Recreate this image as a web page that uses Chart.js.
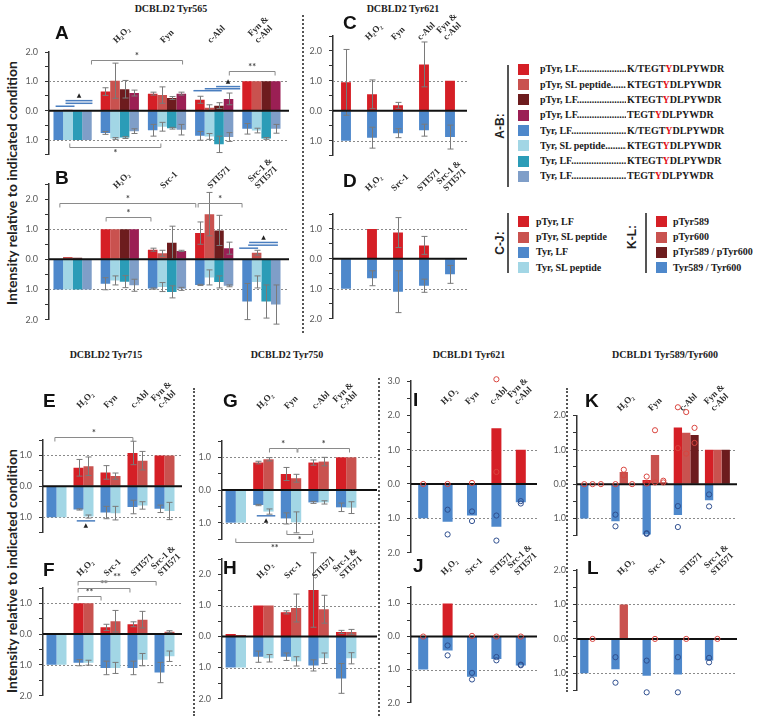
<!DOCTYPE html>
<html>
<head>
<meta charset="utf-8">
<script src="https://cdn.jsdelivr.net/npm/chart.js@4.4.1/dist/chart.umd.min.js"></script>
<style>
body{margin:0;background:#fff}
#fig{position:relative;width:771px;height:716px;overflow:hidden;background:#fff}
#fig div{position:absolute;white-space:nowrap}
#fig canvas{position:absolute}
.ttl{font:bold 10px 'Liberation Serif',serif;color:#222;width:160px;text-align:center;line-height:12px}
.let{font:bold 19px 'Liberation Sans',Arial,sans-serif;color:#111;line-height:19px}
.ytl{font:bold 14px Lato,sans-serif;color:#222;width:280px;height:16px;line-height:16px;text-align:center;transform:rotate(-90deg)}
.sep{border-left:2px dotted #555;width:0}
.sw{width:11px;height:11px}
.lt{font:bold 10px 'Liberation Serif',serif;color:#1a1a1a;line-height:12px}
.lt b{color:#e3141b}
.grp{font:bold 12px 'Liberation Sans',Arial,sans-serif;color:#222;transform:rotate(-90deg);width:40px;text-align:center;line-height:14px}
.vl{width:2px;background:#555}
</style>
</head>
<body>
<div id="fig"></div>
<script>
// colours
const RED = '#d51f26', SALMON = '#c9524f', MAROON = '#6d1c1e', PLUM = '#9b1f54';
const BLUE = '#4e88cb', LIGHT = '#a2d6e5', TEAL = '#2b9cb7', SLATE = '#7f9ec8';
const PT_RED = '#d9453f', PT_BLUE = '#2f4f8f';

// categories
const catsFyn = ['', 'H\u2082O\u2082', 'Fyn', 'c-Abl', ['Fyn &', 'c-Abl']];
const catsSrc = ['', 'H\u2082O\u2082', 'Src-1', 'STI571', ['Src-1 &', 'STI571']];

// A : DCBLD2 Tyr565 (pTyr up, Tyr down)
const pA1 = [0, 0.65, 0.58, 0.37, 1.0],  epA1 = [0, 0.13, 0.05, 0.12, 0];
const pA2 = [0.03, 1.02, 0.53, 0.1, 1.0], epA2 = [0, 0.6, 0.28, 0.1, 0];
const pA3 = [0, 0.73, 0.43, 0.17, 1.0],  epA3 = [0, 0.3, 0.05, 0.1, 0];
const pA4 = [0, 0.6, 0.58, 0.4, 1.0],    epA4 = [0, 0.1, 0.05, 0.2, 0];
const tA1 = [1.0, 0.76, 0.67, 0.86, 0.62], etA1 = [0, 0.05, 0.2, 0.15, 0.18];
const tA2 = [1.0, 0.95, 0.55, 0.88, 0.68], etA2 = [0, 0.03, 0.15, 0.1, 0.08];
const tA3 = [1.0, 0.92, 0.6, 1.15, 0.95],  etA3 = [0, 0.03, 0.03, 0.28, 0.03];
const tA4 = [1.0, 0.7, 0.65, 0.9, 0.62],   etA4 = [0, 0.08, 0.18, 0.15, 0.15];

// B
const pB1 = [0, 1.0, 0.32, 0.87, 0],     epB1 = [0, 0, 0.05, 0.37, 0];
const pB2 = [0.08, 1.0, 0.2, 1.5, 0.22], epB2 = [0, 0, 0.1, 0.72, 0.08];
const pB3 = [0.05, 1.0, 0.55, 0.96, 0],  epB3 = [0, 0, 0.55, 0.5, 0];
const pB4 = [0, 1.0, 0.28, 0.37, 0],     epB4 = [0, 0, 0.02, 0.2, 0];
const tB1 = [1.0, 0.81, 0.97, 0.85, 1.4], etB1 = [0, 0.2, 0.02, 0.02, 0.6];
const tB2 = [1.0, 0.7, 0.92, 0.6, 0.75],  etB2 = [0, 0.15, 0.15, 0.25, 0.2];
const tB3 = [1.0, 0.74, 1.08, 0.75, 1.4], etB3 = [0, 0.2, 0.2, 0.2, 0.55];
const tB4 = [1.0, 0.86, 0.98, 0.88, 1.5], etB4 = [0, 0.2, 0.05, 0.03, 0.65];

// C, D : DCBLD2 Tyr621
const pC = [0.95, 0.55, 0.18, 1.55, 1.0], epC = [1.1, 0.48, 0.1, 0.75, 0];
const tC = [1.0, 0.9, 0.75, 0.65, 0.88],  etC = [0, 0.35, 0.15, 0.2, 0.4];
const pD = [0, 1.0, 0.88, 0.45, 0],       epD = [0, 0, 0.5, 0.3, 0];
const tD = [1.0, 0.65, 1.1, 0.9, 0.52],   etD = [0, 0.25, 0.7, 0.22, 0.3];

// E, F : DCBLD2 Tyr715
const pE1 = [0, 0.6, 0.45, 1.08, 1.0],    epE1 = [0, 0.27, 0.22, 0.38, 0];
const pE2 = [0.02, 0.65, 0.33, 0.83, 1.0], epE2 = [0, 0.3, 0.1, 0.3, 0];
const tE1 = [1.0, 0.75, 0.85, 0.67, 0.73], etE1 = [0, 0.02, 0.2, 0.22, 0.12];
const tE2 = [1.0, 0.98, 0.87, 0.62, 0.8],  etE2 = [0, 0.05, 0.22, 0.12, 0.28];
const pF1 = [0.03, 1.0, 0.22, 0.32, 0.03], epF1 = [0, 0, 0.1, 0.08, 0];
const pF2 = [0.02, 1.0, 0.42, 0.47, 0.08], epF2 = [0, 0, 0.35, 0.27, 0.03];
const tF1 = [1.0, 0.93, 1.1, 1.1, 1.25],   etF1 = [0, 0.1, 0.22, 0.22, 0.33];
const tF2 = [1.0, 0.93, 1.1, 0.83, 0.72],  etF2 = [0, 0.08, 0.18, 0.2, 0.17];

// G, H : DCBLD2 Tyr750
const pG1 = [0, 0.84, 0.49, 0.84, 1.0],    epG1 = [0, 0.04, 0.2, 0.08, 0];
const pG2 = [0.03, 0.94, 0.36, 0.87, 1.0], epG2 = [0, 0.05, 0.12, 0.13, 0];
const tG1 = [1.0, 0.46, 0.87, 0.38, 0.53], etG1 = [0, 0.02, 0.17, 0.03, 0.13];
const tG2 = [1.0, 0.66, 0.99, 0.38, 0.54], etG2 = [0, 0.08, 0.32, 0.05, 0.18];
const pH1 = [0.08, 1.0, 0.78, 1.5, 0.15],  epH1 = [0, 0, 0.05, 1.2, 0.05];
const pH2 = [0.05, 1.0, 0.92, 0.88, 0.15], epH2 = [0, 0, 0.45, 0.45, 0.08];
const tH1 = [1.0, 0.65, 0.65, 0.93, 1.35], etH1 = [0, 0.18, 0.12, 0.18, 0.48];
const tH2 = [1.0, 0.7, 0.8, 0.7, 0.7],     etH2 = [0, 0.12, 0.15, 0.17, 0.18];

// I, J : DCBLD1 Tyr621 (bars + single replicates)
const pI = [0.02, 0.02, 0.03, 1.62, 1.0], ptsPI = [[0], [0], [0.03], [3.05, 0.35], []];
const tI = [1.0, 1.1, 0.92, 1.25, 0.53],  ptsTI = [[], [0.75, 1.47], [0.8, 1.08], [0.92, 1.65], [0.5, 0.57]];
const pJ = [0.02, 1.0, 0.02, 0.01, 0.01], ptsPJ = [[0], [], [0.02], [0], [0]];
const tJ = [1.0, 0.42, 1.22, 0.68, 0.88], ptsTJ = [[], [0.27, 0.57], [1.1, 1.3], [0.62, 0.72], [0.85, 0.87]];

// K, L : DCBLD1 Tyr589/Tyr600
const pK589 = [0, 0, 0.12, 1.65, 1.0],   ptsK589 = [[0], [0], [0.22, 0.02], [2.24, 1.05], []];
const pK600 = [0, 0.35, 0.85, 1.5, 1.0], ptsK600 = [[0], [0.42, 0.26], [1.57, 0.05], [2.1, 0.89], []];
const pKbo  = [0, 0, 0.05, 1.43, 1.0],   ptsKbo  = [[0], [0], [0.1, 0.05], [1.64, 1.2], []];
const tK    = [1.0, 1.08, 1.47, 0.9, 0.47], ptsTK = [[], [0.89, 1.23], [1.43, 1.45], [0.64, 1.25], [0.3, 0.65]];
const pL589 = [0, 0, 0, 0, 0];
const pL600 = [0, 1.0, 0, 0, 0], ptsL600 = [[0], [], [0], [0], [0]];
const pLbo  = [0, 0, 0, 0, 0];
const tL    = [1.0, 0.88, 1.07, 1.03, 0.63], ptsTL = [[], [0.53, 1.27], [0.63, 1.55], [0.53, 1.55], [0.55, 0.68]];

// significance brackets (category units, value) and blue ▲ comparisons
const sigA = [{x1: 0.4, x2: 2.33, y: 1.73, t: '*'}, {x1: 3.32, x2: 4.29, y: 1.35, t: '**'}, {x1: -0.06, x2: 1.87, y: -1.24, t: '*'}];
const triA = [{x1: -0.36, x2: 0.04, y: 0.15}, {x1: -0.15, x2: 0.42, y: 0.25}, {x1: -0.15, x2: 0.42, y: 0.34, t: '\u25B2'},
              {x1: 2.56, x2: 3.16, y: 0.68}, {x1: 2.8, x2: 3.55, y: 0.75}, {x1: 3.04, x2: 3.55, y: 0.82, t: '\u25B2'}];
const sigB = [{x1: -0.27, x2: 2.61, y: 1.86, t: '*'}, {x1: 0.71, x2: 1.66, y: 1.42, t: '*'}, {x1: 2.66, x2: 3.59, y: 1.86, t: '*'}];
const triB = [{x1: 3.53, x2: 3.93, y: 0.37}, {x1: 3.72, x2: 4.35, y: 0.47}, {x1: 3.74, x2: 4.35, y: 0.56, t: '\u25B2'}];
const sigE = [{x1: -0.06, x2: 2.83, y: 1.61, t: '*'}];
const triE = [{x1: 0.75, x2: 1.43, y: -1.12, t: '\u25B2'}];
const sigF = [{x1: 0.8, x2: 1.65, y: 1.23, t: '**'}, {x1: 0.8, x2: 2.72, y: 1.5, t: '**'}, {x1: 0.8, x2: 3.69, y: 1.74, t: '**'}];
const sigG = [{x1: 1.22, x2: 2.22, y: 1.28, t: '*'}, {x1: 2.25, x2: 4.12, y: 1.28, t: '*'},
              {x1: 1.85, x2: 2.78, y: -1.35, t: '*'}, {x1: 0.0, x2: 2.82, y: -1.58, t: '**'}];
const triG = [{x1: 0.76, x2: 1.43, y: -0.79, t: '\u25B2'}];

// legend
const legAB = ['pTyr, LF', 'pTyr, SL peptide', 'pTyr, LF', 'pTyr, LF', 'Tyr, LF', 'Tyr, SL peptide', 'Tyr, LF', 'Tyr, LF'];
const seqAB = ['K/TEGT', 'KTEGT', 'KTEGT', 'TEGT', 'K/TEGT', 'KTEGT', 'KTEGT', 'TEGT'];
const colAB = [RED, SALMON, MAROON, PLUM, BLUE, LIGHT, TEAL, SLATE];
const legCJ = ['pTyr, LF', 'pTyr, SL peptide', 'Tyr, LF', 'Tyr, SL peptide'];
const colCJ = [RED, SALMON, BLUE, LIGHT];
const legKL = ['pTyr589', 'pTyr600', 'pTyr589 / pTyr600', 'Tyr589 / Tyr600'];
const colKL = [RED, SALMON, MAROON, BLUE];

const fig = document.getElementById('fig');
function put(cls, html, left, top, css) {
  const d = document.createElement('div');
  d.className = cls;
  d.innerHTML = html;
  d.style.left = left + 'px';
  d.style.top = top + 'px';
  if (css) Object.assign(d.style, css);
  fig.appendChild(d);
  return d;
}

// series tuple: [values, errors, colour, stack, down?, points, pointColour]
// lp = distance from plot top up to the foot of the slanted category labels
// ext = how far the zero / dotted lines run past the last group
const panels = [
  {L: 'A', lx: 55, ly: 25, cats: catsFyn, box: [49, 285, 52, 159], range: [-1.5, 2], pct: 0.81, lp: 7, sig: sigA, tri: triA,
   series: [[pA1, epA1, RED, 'a'], [pA2, epA2, SALMON, 'b'], [pA3, epA3, MAROON, 'c'], [pA4, epA4, PLUM, 'd'],
            [tA1, etA1, BLUE, 'a', 1], [tA2, etA2, LIGHT, 'b', 1], [tA3, etA3, TEAL, 'c', 1], [tA4, etA4, SLATE, 'd', 1]]},
  {L: 'B', lx: 55, ly: 170, cats: catsSrc, box: [49, 285, 183.5, 323], range: [-2, 2.5], pct: 0.81, lp: -6.5, sig: sigB, tri: triB,
   series: [[pB1, epB1, RED, 'a'], [pB2, epB2, SALMON, 'b'], [pB3, epB3, MAROON, 'c'], [pB4, epB4, PLUM, 'd'],
            [tB1, etB1, BLUE, 'a', 1], [tB2, etB2, LIGHT, 'b', 1], [tB3, etB3, TEAL, 'c', 1], [tB4, etB4, SLATE, 'd', 1]]},
  {L: 'C', lx: 343, ly: 15, cats: catsFyn, box: [333, 463, 36, 160], range: [-1.5, 2.5], pct: 0.38, lp: -6,
   series: [[pC, epC, RED, 'a'], [tC, etC, BLUE, 'a', 1]]},
  {L: 'D', lx: 343, ly: 173, cats: catsSrc, box: [333, 463, 214, 323], range: [-2, 1.5], pct: 0.38, lp: 21,
   series: [[pD, epD, RED, 'a'], [tD, etD, BLUE, 'a', 1]]},
  {L: 'E', lx: 43, ly: 393, cats: catsFyn, box: [43, 178, 440, 536.5], range: [-1.5, 1.5], pct: 0.74, lp: 30, sig: sigE, tri: triE,
   series: [[pE1, epE1, RED, 'a'], [pE2, epE2, SALMON, 'b'], [tE1, etE1, BLUE, 'a', 1], [tE2, etE2, LIGHT, 'b', 1]]},
  {L: 'F', lx: 43, ly: 562, cats: catsSrc, box: [43, 178, 588, 700], range: [-2, 1.5], pct: 0.74, lp: 10, sig: sigF,
   series: [[pF1, epF1, RED, 'a'], [pF2, epF2, SALMON, 'b'], [tF1, etF1, BLUE, 'a', 1], [tF2, etF2, LIGHT, 'b', 1]]},
  {L: 'G', lx: 223, ly: 393, cats: catsFyn, box: [222, 359.5, 440.5, 538.5], range: [-1.5, 1.5], pct: 0.74, lp: 30, ext: 17,
   sig: sigG, tri: triG, padB: 18,
   series: [[pG1, epG1, RED, 'a'], [pG2, epG2, SALMON, 'b'], [tG1, etG1, BLUE, 'a', 1], [tG2, etG2, LIGHT, 'b', 1]]},
  {L: 'H', lx: 223, ly: 560, cats: catsSrc, box: [222, 359.5, 558.5, 702.5], range: [-2, 2.5], pct: 0.74, lp: -21.5, ext: 17,
   series: [[pH1, epH1, RED, 'a'], [pH2, epH2, SALMON, 'b'], [tH1, etH1, BLUE, 'a', 1], [tH2, etH2, LIGHT, 'b', 1]]},
  {L: 'I', lx: 413, ly: 392, cats: catsFyn, box: [411, 533, 381, 557], range: [-2, 3], pct: 0.41, lp: -25.5,
   series: [[pI, null, RED, 'a', 0, ptsPI, PT_RED], [tI, null, BLUE, 'a', 1, ptsTI, PT_BLUE]]},
  {L: 'J', lx: 413, ly: 558, cats: catsSrc, box: [411, 533, 587, 711], range: [-2, 1.5], pct: 0.41, lp: 10, padB: 4,
   series: [[pJ, null, RED, 'a', 0, ptsPJ, PT_RED], [tJ, null, BLUE, 'a', 1, ptsTJ, PT_BLUE]]},
  {L: 'K', lx: 585, ly: 393, cats: catsFyn, box: [577, 733, 415.5, 540], range: [-1.5, 2], pct: 0.8, lp: 2.5,
   series: [[pK589, null, RED, 'a', 0, ptsK589, PT_RED], [pK600, null, SALMON, 'b', 0, ptsK600, PT_RED],
            [pKbo, null, MAROON, 'c', 0, ptsKbo, PT_RED], [tK, null, BLUE, 'a', 1, ptsTK, PT_BLUE]]},
  {L: 'L', lx: 587, ly: 560, cats: catsSrc, box: [577, 733, 569.5, 694], range: [-1.5, 2], pct: 0.8, lp: -7,
   series: [[pL589, null, RED, 'a'], [pL600, null, SALMON, 'b', 0, ptsL600, PT_RED],
            [pLbo, null, MAROON, 'c'], [tL, null, BLUE, 'a', 1, ptsTL, PT_BLUE]]}
];

const Y_W = 30, PAD_R = 22, PAD_B = 8;

function makeMarks(p) {
  const ext = p.ext || 4;
  return {
    id: 'marks',
    beforeDatasetsDraw(chart) {
      const {ctx, chartArea: a, scales: {y}} = chart;
      ctx.save();
      ctx.strokeStyle = '#8a8a8a';
      ctx.lineWidth = 1;
      ctx.setLineDash([2, 2]);
      [1, -1].forEach(v => {
        if (v > y.max || v < y.min) return;
        const py = Math.round(y.getPixelForValue(v)) + 0.5;
        ctx.beginPath(); ctx.moveTo(a.left, py); ctx.lineTo(a.right + ext, py); ctx.stroke();
      });
      ctx.restore();
    },
    afterDatasetsDraw(chart) {
      const {ctx, chartArea: a, scales: {x, y}} = chart;
      ctx.save();
      // error bars
      ctx.strokeStyle = '#7a7a7a';
      ctx.lineWidth = 1;
      chart.data.datasets.forEach((ds, i) => {
        if (!ds.err) return;
        chart.getDatasetMeta(i).data.forEach((bar, j) => {
          const e = ds.err[j];
          if (!e) return;
          const v = ds.data[j];
          const bx = Math.round(bar.x) + 0.5;
          const y1 = y.getPixelForValue(v - e), y2 = y.getPixelForValue(v + e);
          ctx.beginPath();
          ctx.moveTo(bx, y1); ctx.lineTo(bx, y2);
          ctx.moveTo(bx - 3, y1); ctx.lineTo(bx + 3, y1);
          ctx.moveTo(bx - 3, y2); ctx.lineTo(bx + 3, y2);
          ctx.stroke();
        });
      });
      // zero line
      const y0 = y.getPixelForValue(0);
      ctx.strokeStyle = '#111';
      ctx.lineWidth = 2;
      ctx.beginPath(); ctx.moveTo(a.left, y0); ctx.lineTo(a.right + ext, y0); ctx.stroke();
      // single replicates
      ctx.lineWidth = 1;
      chart.data.datasets.forEach((ds, i) => {
        if (!ds.pts) return;
        ctx.strokeStyle = ds.ptColor;
        chart.getDatasetMeta(i).data.forEach((bar, j) => {
          (ds.pts[j] || []).forEach(v => {
            ctx.beginPath();
            ctx.arc(bar.x, y.getPixelForValue(ds.sign * v), 2.6, 0, Math.PI * 2);
            ctx.stroke();
          });
        });
      });
      // brackets
      (p.sig || []).forEach(b => {
        const x1 = x.getPixelForValue(b.x1), x2 = x.getPixelForValue(b.x2);
        const py = Math.round(y.getPixelForValue(b.y)) + 0.5, t = b.y > 0 ? 4 : -4;
        ctx.strokeStyle = '#8a8a8a';
        ctx.lineWidth = 1;
        ctx.beginPath();
        ctx.moveTo(x1, py + t); ctx.lineTo(x1, py); ctx.lineTo(x2, py); ctx.lineTo(x2, py + t);
        ctx.stroke();
        ctx.fillStyle = '#444';
        ctx.font = 'bold 9px Lato';
        ctx.textAlign = 'center';
        ctx.textBaseline = b.y > 0 ? 'bottom' : 'top';
        ctx.fillText(b.t, (x1 + x2) / 2, b.y > 0 ? py : py + 1);
      });
      (p.tri || []).forEach(b => {
        const x1 = x.getPixelForValue(b.x1), x2 = x.getPixelForValue(b.x2);
        const py = y.getPixelForValue(b.y);
        ctx.strokeStyle = '#4a7ebf';
        ctx.lineWidth = 1.5;
        ctx.beginPath(); ctx.moveTo(x1, py); ctx.lineTo(x2, py); ctx.stroke();
        if (b.t) {
          ctx.fillStyle = '#222';
          ctx.font = '6px "DejaVu Sans"';
          ctx.textAlign = 'center';
          ctx.textBaseline = b.y > 0 ? 'bottom' : 'top';
          ctx.fillText(b.t, (x1 + x2) / 2, b.y > 0 ? py - 2 : py + 2);
        }
      });
      ctx.restore();
    },
    afterDraw(chart) {
      // slanted category labels above each group
      const {ctx, chartArea: a, scales: {x}} = chart;
      ctx.save();
      ctx.font = 'bold 9px "Liberation Serif"';
      ctx.fillStyle = '#2b2b2b';
      ctx.textAlign = 'left';
      ctx.textBaseline = 'alphabetic';
      chart.data.labels.forEach((lab, i) => {
        const lines = Array.isArray(lab) ? lab : [lab];
        ctx.save();
        ctx.translate(x.getPixelForValue(i) - 2, a.top - p.lp);
        ctx.rotate(-Math.PI / 4);
        lines.forEach((s, k) => ctx.fillText(s, 0, -2 - (lines.length - 1 - k) * 9.5));
        ctx.restore();
      });
      ctx.restore();
    }
  };
}

function drawPanel(p) {
  const [left, right, top, bottom] = p.box;
  const padB = p.padB || PAD_B;
  const xH = Math.max(p.lp, 0) + 40;
  const w = Math.round(right - left + Y_W + PAD_R);
  const h = Math.round(bottom - top + xH + padB);
  const cv = document.createElement('canvas');
  cv.width = w;
  cv.height = h;
  cv.style.left = (left - Y_W) + 'px';
  cv.style.top = (top - xH) + 'px';
  cv.style.width = w + 'px';
  cv.style.height = h + 'px';
  fig.appendChild(cv);
  const datasets = p.series.map(([vals, errs, color, stack, down, pts, ptColor]) => ({
    data: vals.map(v => down ? -v : v),
    err: errs,
    pts: pts || null,
    ptColor: ptColor,
    sign: down ? -1 : 1,
    backgroundColor: color,
    stack: stack,
    borderWidth: 0,
    barPercentage: 1,
    categoryPercentage: p.pct
  }));
  new Chart(cv, {
    type: 'bar',
    data: {labels: p.cats, datasets},
    options: {
      responsive: false,
      animation: false,
      events: [],
      layout: {padding: {top: 0, left: 0, right: PAD_R, bottom: padB}},
      plugins: {legend: {display: false}, tooltip: {enabled: false}},
      scales: {
        x: {
          position: 'top',
          stacked: true,
          grid: {display: false, drawTicks: false},
          border: {display: false},
          ticks: {display: false},
          afterFit: s => { s.height = xH; }
        },
        y: {
          stacked: true,
          min: p.range[0],
          max: p.range[1],
          grid: {drawOnChartArea: false, drawTicks: true, tickLength: 4, color: '#333'},
          border: {display: true, color: '#333', width: 1.5},
          ticks: {stepSize: 0.5, padding: 7, color: '#5a5a5a', font: {family: 'Lato', size: 9},
                  callback: v => Math.abs(v - Math.round(v)) < 1e-9 ? Math.abs(v).toFixed(1) : ''},
          afterFit: s => { s.width = Y_W; }
        }
      }
    },
    plugins: [makeMarks(p)]
  });
  put('let', p.L, p.lx, p.ly - 2.5);
}

// titles
put('ttl', 'DCBLD2 Tyr565', 171 - 80, 3);
put('ttl', 'DCBLD2 Tyr621', 403 - 80, 3);
put('ttl', 'DCBLD2 Tyr715', 106 - 80, 349);
put('ttl', 'DCBLD2 Tyr750', 287 - 80, 349);
put('ttl', 'DCBLD1 Tyr621', 469 - 80, 349);
put('ttl', 'DCBLD1 Tyr589/Tyr600', 665 - 80, 349);

// axis titles
put('ytl', 'Intensity relative to indicated condition', 12 - 140, 183 - 8);
put('ytl', 'Intensity relative to indicated condition', 12 - 140, 571 - 8);

// separators
put('sep', '', 302, 15, {height: '318px'});
put('sep', '', 193, 388, {height: '328px'});
put('sep', '', 378, 378, {height: '338px'});
put('sep', '', 566, 388, {height: '304px'});

// legend
put('grp', 'A-B:', 500 - 20, 126 - 7);
put('vl', '', 507, 65, {height: '122px'});
legAB.forEach((t, i) => {
  const yc = 69.3 + i * 15.3;
  put('sw', '', 518, yc - 5.5, {background: colAB[i]});
  put('lt', t + '.'.repeat(50), 540, yc - 6, {width: '86px', overflow: 'hidden'});
  put('lt', seqAB[i] + '<b>Y</b>DLPYWDR', 627, yc - 6);
});
put('grp', 'C-J:', 500 - 20, 243 - 7);
put('vl', '', 507, 213, {height: '60px'});
legCJ.forEach((t, i) => {
  const yc = 221.7 + i * 15.3;
  put('sw', '', 518, yc - 5.5, {background: colCJ[i]});
  put('lt', t, 536, yc - 6);
});
put('grp', 'K-L:', 632 - 20, 237 - 7);
put('vl', '', 645, 213, {height: '60px'});
legKL.forEach((t, i) => {
  const yc = 221.7 + i * 15.3;
  put('sw', '', 656, yc - 5.5, {background: colKL[i]});
  put('lt', t, 673, yc - 6);
});

panels.forEach(drawPanel);
</script>
</body>
</html>
